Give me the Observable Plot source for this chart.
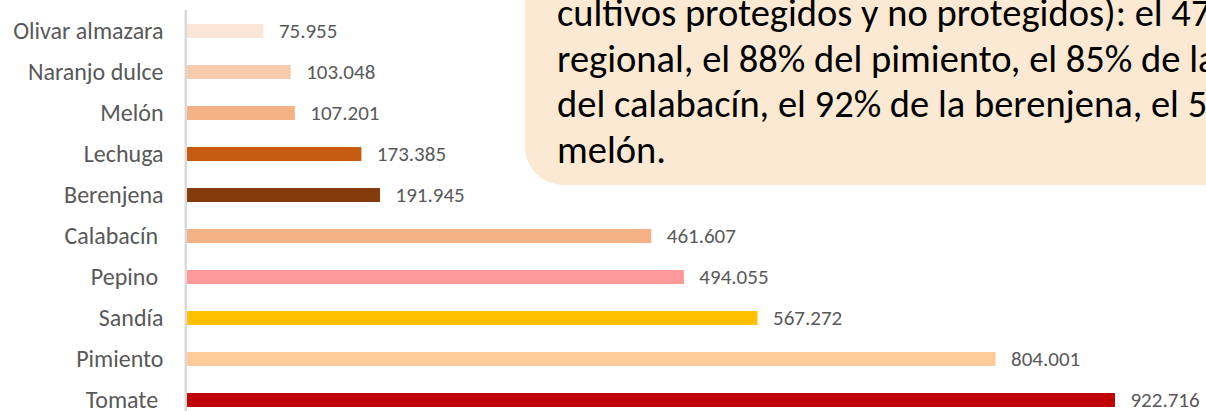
<!DOCTYPE html>
<html>
<head>
<meta charset="utf-8">
<script src="https://cdn.jsdelivr.net/npm/d3@7"></script>
<script src="https://cdn.jsdelivr.net/npm/@observablehq/plot@0.6"></script>
<style>
  html, body { margin: 0; padding: 0; background: #fff; overflow: hidden; }
  #wrap { position: relative; width: 1206px; height: 411px; overflow: hidden; }
  #chart svg text { white-space: pre; }
  #callout { position: absolute; left: 0; top: 0; }
</style>
</head>
<body>
<div id="wrap">
  <div id="chart"></div>
  <svg id="callout" width="1206" height="411"></svg>
</div>
<script>
// ---- data ----
const categories = ["Olivar almazara", "Naranjo dulce", "Melón", "Lechuga", "Berenjena",
                    "Calabacín ", "Pepino ", "Sandía", "Pimiento", "Tomate "];
const values = [75955, 103048, 107201, 173385, 191945, 461607, 494055, 567272, 804001, 922716];
const barColors = ["#FBE5D6", "#F8CBAD", "#F4B183", "#C55A11", "#843C0C",
                   "#F4B183", "#FF9999", "#FFC000", "#FFCC99", "#C00000"];
const calloutLines = [
  "cultivos protegidos y no protegidos): el 47",
  "regional, el 88% del pimiento, el 85% de la",
  "del calabacín, el 92% de la berenjena, el 5",
  "melón."
];

const FONT = "Carlito, Calibri, Lato, sans-serif";
const esFormat = d3.formatLocale({decimal: ",", thousands: ".", grouping: [3], currency: ["", "€"]}).format(",d");

const rows = categories.map((c, i) => ({cat: c, value: values[i], color: barColors[i], label: esFormat(values[i])}));

const chart = Plot.plot({
  width: 1206,
  height: 411,
  marginLeft: 187,
  marginRight: 13,
  marginTop: 10,
  marginBottom: 0,
  style: {fontFamily: FONT, color: "#595959", background: "#fff"},
  x: {domain: [0, 1000000], range: [187, 1192.7], axis: null},
  y: {domain: categories, range: [9.4, 421.6], paddingInner: 0.66, paddingOuter: 0.33, axis: null},
  color: {type: "identity"},
  marks: [
    Plot.barX(rows, {x: "value", y: "cat", fill: "color"}),
    Plot.ruleX([0], {stroke: "#D9D9D9", strokeWidth: 2.5, dx: -1.7}),
    Plot.text(rows, {x: "value", y: "cat", text: "label", textAnchor: "start", dx: 15, fontSize: 21, fill: "#595959"}),
    Plot.axisY({tickSize: 0, tickPadding: 24, fontSize: 24, fill: "#595959", label: null})
  ]
});
document.getElementById("chart").appendChild(chart);

// ---- callout annotation ----
const co = d3.select("#callout");
co.append("path")
  .attr("d", "M525,-5 H1215 V185 H563 A38,38 0 0 1 525,147 Z")
  .attr("fill", "#FCE9D3");
co.selectAll("text.cl").data(calloutLines).join("text")
  .attr("class", "cl")
  .attr("x", 557)
  .attr("y", (d, i) => 26 + i * 45.7)
  .attr("font-family", FONT)
  .attr("font-size", 38.5)
  .attr("fill", "#000")
  .style("white-space", "pre")
  .text(d => d);
</script>
</body>
</html>
